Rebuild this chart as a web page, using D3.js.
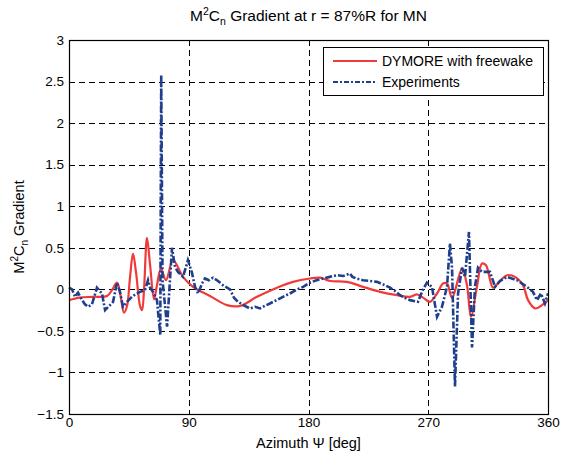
<!DOCTYPE html>
<html>
<head>
<meta charset="utf-8">
<script src="https://cdn.jsdelivr.net/npm/d3@7"></script>
<style>
  body { margin: 0; background: #fff; }
  svg { display: block; font-family: "Liberation Sans", Arial, sans-serif; }
</style>
</head>
<body>
<svg class="chart" width="562" height="462"></svg>
<script>
// azimuth (deg) / value pairs
var dymoreX = [0, 8, 18, 28.6, 32.3, 36.1, 38.8, 41.3, 43.6, 45.9, 48.1, 50.4, 53.4, 54.9, 56.4, 58.6, 60.9, 63.9, 66.1,
    69.1, 72.9, 78.2, 85.7, 93.2, 106, 118.7, 128.5, 141.3, 156.3, 168.4, 181.1, 188.6, 196.2, 209, 221, 233.8,
    246.5, 256.3, 261.6, 266.1, 271.3, 276.6, 281.1, 284.1, 287.9, 295.4, 299.1, 302.1, 306.6, 310.4, 313.4,
    318.7, 323.9, 329.2, 335.2, 341.2, 345, 350.3, 355.5, 360];
var dymoreY = [-0.13, -0.10, -0.09, -0.08, -0.01, 0.08, -0.08, -0.28, -0.2, 0.15, 0.43, 0.2, -0.2, -0.25, 0.0, 0.62, 0.3, -0.12, 0.05,
    0.25, 0.11, 0.35, 0.15, 0.03, -0.08, -0.19, -0.2, -0.09, 0.02, 0.09, 0.13, 0.14, 0.1, 0.09, 0.03, -0.03,
    -0.07, -0.09, -0.06, -0.1, -0.15, -0.05, 0.07, 0.07, -0.1, 0.25, 0.05, -0.33, 0.03, 0.31, 0.29,
    0.02, 0.1, 0.17, 0.15, 0.05, -0.13, -0.23, -0.19, -0.13];

var expX = [0, 2.3, 4.5, 6.8, 9.8, 12, 14.3, 17.3, 21, 24.8, 27.1, 30.8, 33.1, 36.1, 38.3, 40.6, 43.6, 47.3, 50, 53.4,
    57.1, 59.4, 60.9, 63.1, 66.1, 68.6, 69.3, 70.3, 73.7, 77.4, 79.7, 81.9, 85.7, 89.4, 92.4, 94.7, 97, 100,
    102.2, 105, 108.2, 112, 115.7, 121, 124, 127, 131, 136, 140, 143.5, 147, 151, 156, 160.8, 166, 171.4,
    176, 181.1, 186, 190.9, 196, 201.4, 206, 211.2, 213, 216, 221, 226, 231.5, 236, 241.3, 245, 248.8,
    252, 256.3, 262.3, 266.1, 269, 272.8, 276.6, 280.3, 284.1, 286.3, 287.9, 290.1, 292.4, 295.4, 297.6,
    300.6, 302.9, 305.1, 307.4, 310.4, 316.4, 320.2, 323.9, 329.2, 336.7, 344.2, 348.7, 351.7, 354.7, 357.7, 360];
var expY = [0.02, 0.0, -0.09, -0.04, -0.13, -0.18, -0.21, -0.18, 0.02, -0.05, -0.25, -0.19, -0.15, 0.08, -0.03, -0.21, -0.15, -0.09, -0.06, -0.03,
    -0.01, 0.11, 0.02, -0.03, -0.13, -0.55, 2.58, 0.11, -0.45, 0.5, 0.27, 0.21, 0.15, 0.35, 0.2, 0.03, -0.05, 0.07,
    0.13, 0.11, 0.14, 0.1, 0.05, 0.0, -0.1, -0.15, -0.19, -0.23, -0.21, -0.23, -0.2, -0.17, -0.13, -0.09, -0.05, 0.0,
    0.03, 0.08, 0.11, 0.13, 0.15, 0.17, 0.16, 0.19, 0.15, 0.13, 0.11, 0.1, 0.09, 0.06, 0.02, -0.02, -0.07,
    -0.1, -0.13, -0.15, 0.0, 0.08, 0.03, -0.33, -0.21, 0.03, 0.55, 0.25, -1.17, -0.05, 0.26, 0.15,
    0.69, -0.7, 0.03, 0.26, 0.21, 0.21, 0.03, 0.1, 0.15, 0.11, 0.03, -0.03, -0.13, -0.05, -0.17, -0.05];

var xTicks = [0, 90, 180, 270, 360];
var yTicks = [-1.5, -1, -0.5, 0, 0.5, 1, 1.5, 2, 2.5, 3];

(function() {
    var svg = d3.select('svg.chart');
    var padL = 69, padR = 548, padT = 40, padB = 414;

    var x = d3.scaleLinear().domain([0, 360]).range([padL, padR]);
    var y = d3.scaleLinear().domain([-1.5, 3]).range([padB, padT]);

    // grid
    svg.selectAll('.gx')
        .data(xTicks.slice(1, -1))
        .enter()
            .append('line')
            .attr('x1', function(d) { return Math.round(x(d)) + 0.5; })
            .attr('x2', function(d) { return Math.round(x(d)) + 0.5; })
            .attr('y1', padT)
            .attr('y2', padB)
            .attr('stroke', '#000')
            .attr('stroke-dasharray', '6,4');

    svg.selectAll('.gy')
        .data(yTicks.slice(1, -1))
        .enter()
            .append('line')
            .attr('y1', function(d) { return Math.round(y(d)) + 0.5; })
            .attr('y2', function(d) { return Math.round(y(d)) + 0.5; })
            .attr('x1', padL)
            .attr('x2', padR)
            .attr('stroke', '#000')
            .attr('stroke-dasharray', '6,4');

    // axes
    var xAxis = d3.axisBottom(x).tickValues(xTicks).tickSize(0).tickPadding(3);
    var yAxis = d3.axisLeft(y).tickValues(yTicks).tickSize(0).tickPadding(5)
        .tickFormat(function(d) { return d3.format('')(d); });

    var gx = svg.append('g').attr('transform', 'translate(0,' + padB + ')').call(xAxis);
    var gy = svg.append('g').attr('transform', 'translate(' + padL + ',0)').call(yAxis);
    [gx, gy].forEach(function(g) {
        g.select('.domain').remove();
        g.selectAll('text').attr('font-size', '13.5px').attr('fill', '#000')
            .attr('font-family', '"Liberation Sans", Arial, sans-serif');
    });

    // series
    var smooth = d3.line()
        .curve(d3.curveCatmullRom.alpha(0.5))
        .x(function(d) { return x(d[0]); })
        .y(function(d) { return y(d[1]); });
    var line = d3.line()
        .x(function(d) { return x(d[0]); })
        .y(function(d) { return y(d[1]); });

    svg.append('path')
        .datum(d3.zip(dymoreX, dymoreY))
        .attr('d', smooth)
        .attr('fill', 'none')
        .attr('stroke', '#f03a3a')
        .attr('stroke-width', 2.2)
        .attr('stroke-linejoin', 'round');

    svg.append('path')
        .datum(d3.zip(expX, expY))
        .attr('d', line)
        .attr('fill', 'none')
        .attr('stroke', '#1f3f8c')
        .attr('stroke-width', 2.6)
        .attr('stroke-dasharray', '7,2,2,2');

    // frame
    svg.append('rect')
        .attr('x', padL + 0.5).attr('y', padT + 0.5)
        .attr('width', padR - padL).attr('height', padB - padT)
        .attr('fill', 'none')
        .attr('stroke', '#000')
        .attr('stroke-width', 1.2);

    // legend
    var lg = svg.append('g').attr('transform', 'translate(323,47)');
    lg.append('rect')
        .attr('x', 0.5).attr('y', 0.5)
        .attr('width', 220).attr('height', 48)
        .attr('fill', '#fff').attr('stroke', '#000');
    var items = [
        { name: 'DYMORE with freewake', color: '#f03a3a', dash: null, w: 2.2 },
        { name: 'Experiments', color: '#1f3f8c', dash: '5,2,2,2', w: 2 }
    ];
    items.forEach(function(it, i) {
        var yy = 14 + i * 21;
        lg.append('line')
            .attr('x1', 10).attr('x2', 54)
            .attr('y1', yy).attr('y2', yy)
            .attr('stroke', it.color)
            .attr('stroke-width', it.w)
            .attr('stroke-dasharray', it.dash);
        lg.append('text')
            .attr('x', 59).attr('y', yy + 5)
            .attr('font-size', '14px')
            .text(it.name);
    });

    // title
    var title = svg.append('text')
        .attr('x', (padL + padR) / 2).attr('y', 21)
        .attr('text-anchor', 'middle')
        .attr('font-size', '15.5px');
    title.append('tspan').text('M');
    title.append('tspan').attr('font-size', '10.5px').attr('dy', -6).text('2');
    title.append('tspan').attr('dy', 6).text('C');
    title.append('tspan').attr('font-size', '10.5px').attr('dy', 4).text('n');
    title.append('tspan').attr('dy', -4).text(' Gradient at r = 87%R for MN');

    // axis labels
    svg.append('text')
        .attr('x', (padL + padR) / 2).attr('y', 448)
        .attr('text-anchor', 'middle')
        .attr('font-size', '14.5px')
        .text('Azimuth \u03A8 [deg]');

    var yl = svg.append('text')
        .attr('transform', 'translate(24,' + (padT + padB) / 2 + ') rotate(-90)')
        .attr('text-anchor', 'middle')
        .attr('font-size', '14.5px');
    yl.append('tspan').text('M');
    yl.append('tspan').attr('font-size', '10px').attr('dy', -6).text('2');
    yl.append('tspan').attr('dy', 6).text('C');
    yl.append('tspan').attr('font-size', '10px').attr('dy', 4).text('n');
    yl.append('tspan').attr('dy', -4).text(' Gradient');
})();
</script>
</body>
</html>
